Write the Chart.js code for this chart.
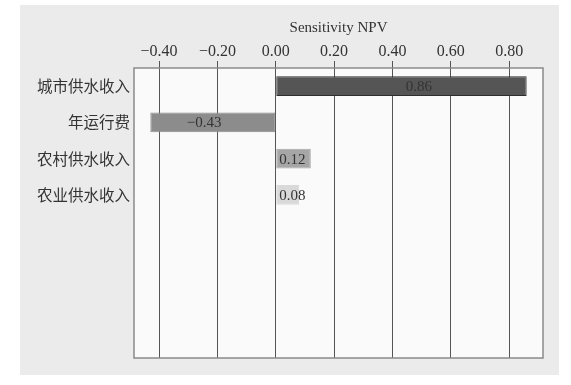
<!DOCTYPE html>
<html lang="zh">
<head>
    <meta charset="UTF-8">
    <title>Sensitivity NPV</title>
    <script src="https://cdn.jsdelivr.net/npm/chart.js"></script>
    <style>
        body {
            margin: 0;
            background: #ffffff;
        }

        .chart-box {
            position: absolute;
            left: 20px;
            top: 5px;
            width: 539px;
            height: 370px;
            background: #ecebeb;
        }
    </style>
</head>
<body>
    <div class="chart-box">
        <canvas id="npvChart"></canvas>
    </div>

    <script>
        // categories (the last slots are empty in the original figure)
        const categories = ['城市供水收入', '年运行费', '农村供水收入', '农业供水收入', '', '', '', ''];
        const npvValues = [0.86, -0.43, 0.12, 0.08, null, null, null, null];
        const barColors = ['#555555', '#8c8c8c', '#a6a6a6', '#d9d9d9'];
        const barBorders = ['#2e2e2e', '#8c8c8c', '#a6a6a6', '#d9d9d9'];
        const axisTitle = 'Sensitivity NPV';
        const axisMin = -0.486;
        const axisMax = 0.916;
        const tickStep = 0.2;

        const serif = "'Liberation Serif', 'DejaVu Serif', serif";
        const cjk = "'Noto Sans CJK SC', sans-serif";

        // plot background (under the grid) + frame
        const frame = {
            id: 'frame',
            beforeDraw(chart) {
                const { ctx, chartArea: a } = chart;
                ctx.save();
                ctx.fillStyle = '#fafafa';
                ctx.fillRect(a.left, a.top, a.right - a.left, a.bottom - a.top);
                ctx.restore();
            },
            afterDatasetsDraw(chart) {
                const { ctx, chartArea: a } = chart;
                ctx.save();
                ctx.strokeStyle = '#8a8a8a';
                ctx.lineWidth = 1.5;
                ctx.strokeRect(a.left, a.top, a.right - a.left, a.bottom - a.top);
                ctx.restore();
            }
        };

        // value labels on the bars
        const valueLabels = {
            id: 'valueLabels',
            afterDatasetsDraw(chart) {
                const { ctx } = chart;
                const meta = chart.getDatasetMeta(0);
                ctx.save();
                ctx.font = '15px ' + serif;
                ctx.fillStyle = '#333333';
                ctx.textBaseline = 'middle';
                meta.data.forEach((bar, i) => {
                    const v = npvValues[i];
                    if (v === null) return;
                    const len = bar.x - bar.base;
                    const txt = v < 0 ? '\u2212' + Math.abs(v).toFixed(2) : v.toFixed(2);
                    if (Math.abs(len) > 60) {
                        ctx.textAlign = 'center';
                        ctx.fillText(txt, bar.base + len * 0.57, bar.y + 1);
                    } else {
                        ctx.textAlign = 'left';
                        ctx.fillText(txt, bar.base + 3, bar.y + 1);
                    }
                });
                ctx.restore();
            }
        };

        const ctx = document.getElementById('npvChart').getContext('2d');
        new Chart(ctx, {
            type: 'bar',
            data: {
                labels: categories,
                datasets: [{
                    data: npvValues,
                    backgroundColor: barColors,
                    borderColor: barBorders,
                    borderWidth: 1,
                    borderSkipped: false,
                    barPercentage: 0.55,
                    categoryPercentage: 1
                }]
            },
            options: {
                indexAxis: 'y',
                responsive: true,
                maintainAspectRatio: false,
                animation: false,
                layout: { padding: { left: 0, right: 16, top: 0, bottom: 17 } },
                plugins: {
                    legend: { display: false },
                    tooltip: { enabled: false }
                },
                scales: {
                    x: {
                        position: 'top',
                        min: axisMin,
                        max: axisMax,
                        afterFit(scale) { scale.height = 63; },
                        grid: {
                            color: '#555555',
                            lineWidth: 1,
                            drawTicks: true,
                            tickLength: 7
                        },
                        border: { display: false },
                        ticks: {
                            stepSize: tickStep,
                            includeBounds: false,
                            color: '#333333',
                            padding: 0,
                            font: { family: serif, size: 16 },
                            callback: v => (v < 0 ? '\u2212' + Math.abs(v).toFixed(2) : v.toFixed(2))
                        },
                        title: {
                            display: true,
                            text: axisTitle,
                            color: '#333333',
                            font: { family: serif, size: 15 },
                            padding: { top: 14, bottom: 0 }
                        }
                    },
                    y: {
                        afterFit(scale) { scale.width = 114; },
                        grid: { display: false, drawTicks: false },
                        border: { display: false },
                        ticks: {
                            color: '#333333',
                            padding: 4,
                            autoSkip: false,
                            font: { family: cjk, size: 15.5 }
                        }
                    }
                }
            },
            plugins: [frame, valueLabels]
        });
    </script>
</body>
</html>
